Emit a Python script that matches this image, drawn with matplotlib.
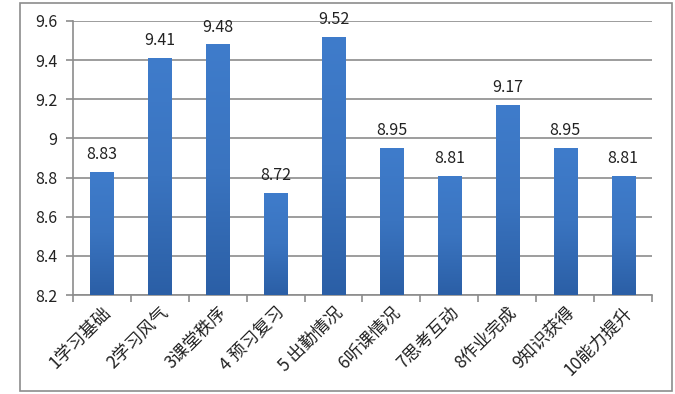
import numpy as np
import matplotlib.pyplot as plt
import matplotlib.transforms as mtransforms
from matplotlib.colors import LinearSegmentedColormap
from matplotlib.patches import Rectangle

plt.rcParams['font.family'] = ['Noto Sans CJK SC', 'DejaVu Sans']

categories = ["1学习基础", "2学习风气", "3课堂秩序", "4 预习复习", "5 出勤情况",
              "6听课情况", "7思考互动", "8作业完成", "9知识获得", "10能力提升"]
scores = [8.83, 9.41, 9.48, 8.72, 9.52, 8.95, 8.81, 9.17, 8.95, 8.81]
yticks = [8.2, 8.4, 8.6, 8.8, 9, 9.2, 9.4, 9.6]
ytick_labels = ["8.2", "8.4", "8.6", "8.8", "9", "9.2", "9.4", "9.6"]

fig = plt.figure(figsize=(6.75, 3.94), dpi=100)
ax = fig.add_axes([0.108, 0.251, 0.858, 0.696])

# outer chart frame
fig.patches.append(Rectangle((0.030, 0.008), 0.965, 0.984, transform=fig.transFigure,
                             fill=False, edgecolor="#8c8c8c", lw=1.2))

ymin, ymax = 8.2, 9.6
grad = LinearSegmentedColormap.from_list("bar", ["#2b5fa6", "#3a74c0", "#3f7ccb"])
w = 0.4
for i, v in enumerate(scores):
    bar = ax.bar(i, v - ymin, width=w, bottom=ymin, color="none", zorder=3)[0]
    img = ax.imshow(np.linspace(0, 1, 100).reshape(-1, 1), cmap=grad, aspect="auto",
                    extent=(i - w / 2, i + w / 2, ymin, v), origin="lower", zorder=3)
    img.set_clip_path(bar)
    ax.text(i, v + 0.045, f"{v:.2f}", ha="center", va="bottom", fontsize=11.5, color="#222222")

ax.set_xlim(-0.5, len(categories) - 0.5)
ax.set_ylim(ymin, ymax)

ax.set_yticks(yticks)
ax.set_yticklabels(ytick_labels, fontsize=11.5, color="#222222")
ax.yaxis.grid(True, color="#8c8c8c", lw=1.2, zorder=0)
ax.set_axisbelow(True)

ax.set_xticks(np.arange(len(categories) + 1) - 0.5, minor=False)
ax.set_xticklabels([])
ax.set_xticks(np.arange(len(categories)), minor=True)
labels = ax.set_xticklabels(categories, minor=True, rotation=45, ha="right", va="top",
                            rotation_mode="anchor", fontsize=12.5, color="#222222")
shift = mtransforms.ScaledTranslation(10 / 100, 0, fig.dpi_scale_trans)
for lab in labels:
    lab.set_transform(lab.get_transform() + shift)
ax.tick_params(axis="x", which="minor", length=0, pad=6)
ax.tick_params(axis="x", which="major", length=5, color="#8c8c8c", width=1.2)
ax.tick_params(axis="y", length=5, color="#8c8c8c", width=1.2, pad=6)

for s in ["top", "right"]:
    ax.spines[s].set_visible(False)
for s in ["left", "bottom"]:
    ax.spines[s].set_color("#8c8c8c")
    ax.spines[s].set_linewidth(1.2)

fig.savefig("out.png", dpi=100)
